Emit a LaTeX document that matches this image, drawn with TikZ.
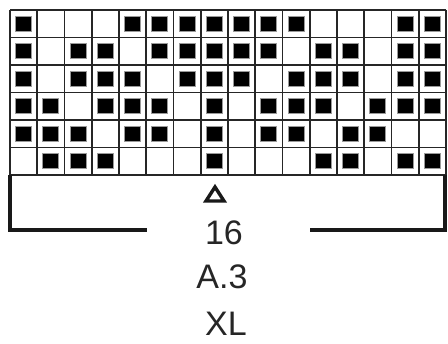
\documentclass[tikz,border=0pt]{standalone}
\usepackage{fontspec}
\setmainfont{Liberation Sans}
\usetikzlibrary{calc}
\begin{document}
\begin{tikzpicture}[x=1pt,y=-1pt,
  gridline/.style={line width=1.7pt, black!85},
  stitch/.style={fill=black, draw=black!40, line width=1.1pt},
  bracket/.style={line width=3.6pt, black!90},
  marker/.style={line width=3.4pt, black!90, line join=miter},
  lbl/.style={font=\fontsize{34}{34}\selectfont, text=black!85, inner sep=0pt, anchor=base}]
\useasboundingbox (0,0) rectangle (448,344);
\fill[white] (0,0) rectangle (448,344);
% black stitches
\foreach \r/\cols in {1/{1,5,6,7,8,9,10,11,15,16},
                      2/{1,3,4,6,7,8,9,10,12,13,15,16},
                      3/{1,3,4,5,7,8,9,11,12,13,15,16},
                      4/{1,2,4,5,6,8,10,11,12,14,15,16},
                      5/{1,2,3,5,6,8,10,11,13,14},
                      6/{2,3,4,8,12,13,15,16}}{
  \foreach \c in \cols {
    \path[stitch] ({10+(\c-0.5)*27.25-8},{10+(\r-0.5)*27.5-7.5}) rectangle ++(16,15);
  }
}
% grid
\foreach \i in {0,...,16}
  \draw[gridline] ({10+\i*27.25},10) -- ({10+\i*27.25},175);
\foreach \j in {0,...,6}
  \draw[gridline] (10,{10+\j*27.5}) -- (446,{10+\j*27.5});
% bracket
\coordinate (tl) at (10,175);
\coordinate (bl) at (10,230);
\coordinate (el) at (147,230);
\coordinate (er) at (310,230);
\coordinate (br) at (445,230);
\coordinate (tr) at (445,175);
\draw[bracket] (tl) -- (bl) -- (el);
\draw[bracket] (er) -- (br) -- (tr);
% marker triangle
\coordinate (tri) at (215,194);
\draw[marker] ($(tri)+(0,-7)$) -- ($(tri)+(9,7)$) -- ($(tri)+(-9,7)$) -- cycle;
% labels
\node[lbl] (n16) at (224,245) {16};
\node[lbl] (na3) at (222,289) {A.3};
\node[lbl] (nxl) at (226,336) {XL};
\end{tikzpicture}
\end{document}
